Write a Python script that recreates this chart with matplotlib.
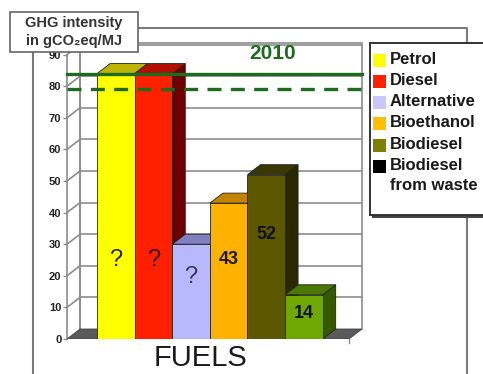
import numpy as np
import matplotlib
matplotlib.use("Agg")
from matplotlib import pyplot as plt
from matplotlib.patches import Polygon, Rectangle

plt.rcParams['font.family'] = ['Liberation Sans', 'DejaVu Sans']

# data
fuels = ['Petrol', 'Diesel', 'Alternative', 'Bioethanol', 'Biodiesel', 'Biodiesel\nfrom waste']
values = [84, 84, 30, 43, 52, 14]
bar_labels = ['?', '?', '?', '43', '52', '14']
target_2010 = 84
target_low = 79
yticks = [0, 10, 20, 30, 40, 50, 60, 70, 80, 90]

# styling
front = ['#ffff00', '#ff2000', '#b8b8ff', '#ffb300', '#5c5800', '#6fa800']
top = ['#bcb400', '#b01000', '#8080c0', '#c48400', '#3a3700', '#4a7800']
side = ['#8a8600', '#6e0000', '#6a6aa0', '#a06c00', '#2a2800', '#365800']
legend_col = ['#ffff00', '#ff2000', '#c8c8ff', '#ffbf00', '#808000', '#000000']
label_y = [25, 25, 19.5, 25, 33, 8]
label_col = ['#222222', '#330000', '#3a3a58', '#1a1a1a', '#111111', '#111111']
label_size = [17, 17, 17, 13, 13, 13]
label_weight = ['normal', 'normal', 'normal', 'bold', 'bold', 'bold']

W, H = 483, 374
fig = plt.figure(figsize=(W / 100, H / 100), dpi=100)

# main axes: front plane x 67..362 px, y 339..43 px
ax = fig.add_axes([67 / W, (H - 339) / H, (362 - 67) / W, (339 - 43) / H])
x0 = -0.8
xs = 37.6                   # px per bar
ys = 3.16                   # px per unit
x1 = x0 + 295 / xs
ax.set_xlim(x0, x1)
ax.set_ylim(0, 296 / ys)
dx = 13 / xs
dy = 10 / ys
gray = '#8c8c8c'

# walls
ymax = 90
ax.plot([x0, x0], [0, ymax], color=gray, lw=1.2, zorder=1, clip_on=False)
ax.plot([x0 + dx, x0 + dx], [dy, ymax + dy], color=gray, lw=1.2, zorder=1, clip_on=False)
ax.plot([x1, x1], [dy, ymax + dy], color=gray, lw=1.2, zorder=1, clip_on=False)
for v in yticks[1:]:
    ax.plot([x0, x0 + dx], [v, v + dy], color=gray, lw=1.2, zorder=1, clip_on=False)
    ax.plot([x0 + dx, x1], [v + dy, v + dy], color=gray, lw=1.2, zorder=1, clip_on=False)

# floor
floor = Polygon([[x0, 0], [x0 + dx, dy], [x1, dy], [x1 - dx, 0]], closed=True,
                facecolor='#5a5a5a', edgecolor='#444444', lw=0.6, zorder=2)
ax.add_patch(floor)
ax.plot([x1 - dx, x1 - dx], [0, -1.3], color=gray, lw=1.0, clip_on=False, zorder=2)

# 3d bars
for i, h in enumerate(values):
    z = 3 + i
    ax.add_patch(Polygon([[i + 1, 0], [i + 1 + dx, dy], [i + 1 + dx, h + dy], [i + 1, h]],
                         closed=True, facecolor=side[i], edgecolor='#222222', lw=0.6, zorder=z))
    ax.add_patch(Polygon([[i, h], [i + dx, h + dy], [i + 1 + dx, h + dy], [i + 1, h]],
                         closed=True, facecolor=top[i], edgecolor='#222222', lw=0.6, zorder=z))
    ax.bar(i, h, width=1, align='edge', color=front[i], edgecolor='#222222', lw=0.6, zorder=z)
    ax.text(i + 0.5, label_y[i], bar_labels[i], ha='center', va='center',
            fontsize=label_size[i], fontweight=label_weight[i], color=label_col[i], zorder=20)

# 2010 lines
ax.axhline(target_2010, color='#1e6a1e', lw=2.4, zorder=15, clip_on=False)
ax.axhline(target_low, color='#1e6a1e', lw=2.4, ls=(0, (4.2, 2.8)), zorder=15, clip_on=False)
ax.text(4.68, 90.5, '2010', ha='center', va='center', fontsize=15, fontweight='bold',
        color='#1e6a1e', zorder=15)

ax.set_yticks(yticks)
ax.set_yticklabels([str(v) for v in yticks], fontsize=8, fontweight='bold', color='#222222')
ax.tick_params(axis='y', length=3, width=1, color=gray, pad=1)
ax.set_xticks([])
for s in ax.spines.values():
    s.set_visible(False)
ax.patch.set_alpha(0)

# frame lines
ov = fig.add_axes([0, 0, 1, 1], zorder=-1)
ov.set_xlim(0, W)
ov.set_ylim(H, 0)
ov.axis('off')
ov.plot([33, 33, 467, 467], [H, 28, 28, H], color='#7a7a7a', lw=1.5)
ov.plot([80, 80, 362], [330, 43, 43], color=gray, lw=1.2)

# label box
lb = fig.add_axes([0, 0, 1, 1], zorder=5)
lb.set_xlim(0, W)
lb.set_ylim(H, 0)
lb.axis('off')
lb.add_patch(Rectangle((10, 12), 128, 40, facecolor='white', edgecolor='#666666', lw=1.2))
lb.text(74, 23, 'GHG intensity', ha='center', va='center', fontsize=10.5,
        fontweight='bold', color='#333333')
lb.text(74, 41, 'in gCO\u2082eq/MJ', ha='center', va='center', fontsize=10.5,
        fontweight='bold', color='#333333')

# legend
lb.add_patch(Rectangle((372, 45), 114, 173, facecolor='#444444', edgecolor='none'))
lb.add_patch(Rectangle((370, 43), 114, 172, facecolor='white', edgecolor='#333333', lw=1.4))
ly = [60, 81, 102, 123, 145, 166]
for i, name in enumerate(fuels):
    lb.add_patch(Rectangle((373, ly[i] - 6.5), 13, 13, facecolor=legend_col[i], edgecolor='none'))
    lb.text(390, ly[i] - 8, name, ha='left', va='top', fontsize=12, fontweight='bold',
            color='#1a1a1a', linespacing=1.45)

fig.text(200 / W, 1 - 358 / H, 'FUELS', ha='center', va='center', fontsize=21, color='#1a1a1a')

fig.savefig('out.png', dpi=100)
